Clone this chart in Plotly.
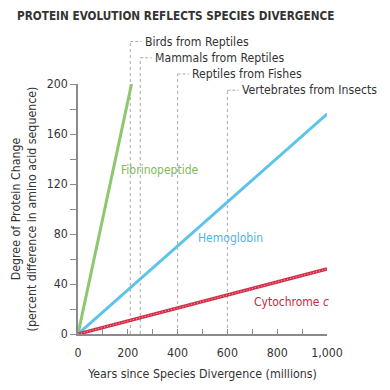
import plotly.graph_objects as go

# data
years = [0, 1000]
fibrino_x = [0, 215]
fibrino_y = [0, 200]
hemoglobin_y = [0, 176]
cytochrome_y = [0, 52]

events = ["Birds from Reptiles", "Mammals from Reptiles", "Reptiles from Fishes", "Vertebrates from Insects"]
event_x = [210, 250, 400, 600]
event_label_y = [234, 221, 208, 195]  # in y-data units (above plot top for some)

series_labels = ["Fibrinopeptide", "Hemoglobin", "Cytochrome <i>c</i>"]
label_x = [330, 611, 856]
label_y = [131, 77, 26]

green = "#8dc870"
blue = "#5ec3ea"
red = "#d42f48"
gray = "#8a8a8a"
font = "DejaVu Sans Condensed, Liberation Sans Narrow, sans-serif"

L, T, W, H = 70, 76, 249, 250

fig = go.Figure()
fig.add_trace(go.Scatter(x=fibrino_x, y=fibrino_y, mode="lines",
                         line=dict(color=green, width=3), showlegend=False))
fig.add_trace(go.Scatter(x=years, y=hemoglobin_y, mode="lines",
                         line=dict(color=blue, width=3), showlegend=False))
fig.add_trace(go.Scatter(x=years, y=cytochrome_y, mode="lines",
                         line=dict(color=red, width=3.5), showlegend=False))
fig.add_trace(go.Scatter(x=years, y=cytochrome_y, mode="lines",
                         line=dict(color="#f3b6c0", width=1, dash="1px,2px"), showlegend=False))

shapes = []
annotations = []
ymax = 200.0
for name, ex, ly in zip(events, event_x, event_label_y):
    yp = ly / ymax
    shapes.append(dict(type="line", xref="x", yref="paper", x0=ex, x1=ex, y0=0, y1=yp,
                       line=dict(color="#aaaaaa", width=1, dash="3px,3px"), layer="below"))
    shapes.append(dict(type="line", xref="x", yref="paper", x0=ex, x1=ex + 45, y0=yp, y1=yp,
                       line=dict(color="#aaaaaa", width=1, dash="3px,2px"), layer="below"))
    annotations.append(dict(x=ex + 50, y=yp, xref="x", yref="paper", text=name,
                            showarrow=False, xanchor="left", yanchor="middle",
                            font=dict(family=font, size=12.2, color="#333333")))

for t, lx, ly, c in zip(series_labels, label_x, label_y, ["#7fb85e", "#4fb4de", "#c8283f"]):
    annotations.append(dict(x=lx, y=ly, xref="x", yref="y", text=t, showarrow=False,
                            font=dict(family=font, size=12, color=c)))

annotations.append(dict(x=(7 - L) / W, y=(T + H - 8) / H, xref="paper", yref="paper",
                        text="<b>PROTEIN EVOLUTION REFLECTS SPECIES DIVERGENCE</b>",
                        showarrow=False, xanchor="left", yanchor="middle",
                        font=dict(family=font, size=11.7, color="#333333")))

fig.update_layout(
    width=390, height=390,
    margin=dict(l=L, r=390 - L - W, t=T, b=390 - T - H),
    plot_bgcolor="white", paper_bgcolor="white",
    shapes=shapes, annotations=annotations,
    font=dict(family=font, color="#333333"),
    xaxis=dict(range=[0, 1000], showgrid=False, zeroline=False, showline=True, automargin=False,
               linecolor=gray, linewidth=1.5, ticks="inside", ticklen=5, tickcolor=gray,
               dtick=200, tickformat=",", tickfont=dict(size=12.3, color="#333333"),
               ticklabelstandoff=6,
               minor=dict(dtick=100, ticks="inside", ticklen=5, tickcolor=gray),
               title=dict(text="Years since Species Divergence (millions)", font=dict(size=12.3), standoff=11)),
    yaxis=dict(range=[0, 200], showgrid=False, zeroline=False, showline=True, automargin=False,
               linecolor=gray, linewidth=1.5, ticks="outside", ticklen=6, tickcolor=gray,
               dtick=40, tickfont=dict(size=12.3, color="#333333"),
               minor=dict(dtick=20, ticks="outside", ticklen=6, tickcolor=gray),
               title=dict(text="Degree of Protein Change<br>(percent difference in amino acid sequence)",
                          font=dict(size=12.3), standoff=7)),
)

fig.write_html("out.html")
